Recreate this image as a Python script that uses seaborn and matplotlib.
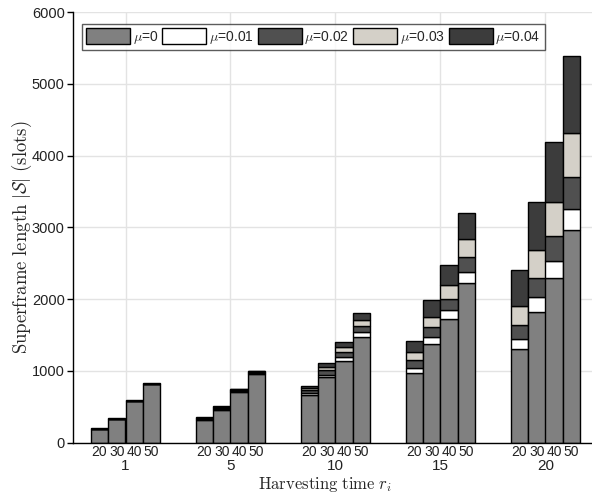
import numpy as np
import seaborn as sns
import matplotlib.pyplot as plt

# harvesting time groups and number of nodes per bar
harvest_times = ["1", "5", "10", "15", "20"]
node_counts = ["20", "30", "40", "50"]
mu_labels = ["$\\mu$=0", "$\\mu$=0.01", "$\\mu$=0.02", "$\\mu$=0.03", "$\\mu$=0.04"]
mu_colors = ["#808080", "#ffffff", "#505050", "#d4d0c8", "#3c3c3c"]

# superframe length |S| for each mu (cumulative), rows = node counts 20..50
len_r1 = [[185, 189, 193, 197, 200],
          [325, 329, 333, 337, 340],
          [575, 579, 583, 587, 590],
          [812, 816, 820, 824, 827]]
len_r5 = [[316, 326, 337, 347, 358],
          [451, 465, 479, 493, 507],
          [711, 721, 731, 742, 752],
          [961, 972, 982, 993, 1003]]
len_r10 = [[670, 695, 730, 760, 794],
           [911, 943, 1013, 1059, 1115],
           [1142, 1190, 1259, 1329, 1403],
           [1477, 1538, 1630, 1709, 1805]]
len_r15 = [[975, 1045, 1152, 1259, 1417],
           [1371, 1477, 1608, 1747, 1984],
           [1719, 1849, 2002, 2197, 2476],
           [2229, 2374, 2591, 2834, 3196]]
len_r20 = [[1305, 1440, 1640, 1909, 2406],
           [1825, 2026, 2299, 2685, 3349],
           [2290, 2531, 2880, 3357, 4185],
           [2959, 3258, 3706, 4310, 5387]]

lengths = np.array([len_r1, len_r5, len_r10, len_r15, len_r20], dtype=float)

sns.set_theme(style="whitegrid")
plt.rcParams['font.family'] = ['Liberation Sans', 'DejaVu Sans']
plt.rcParams['mathtext.fontset'] = 'cm'

fig = plt.figure(figsize=(5.92, 4.98), dpi=100)
ax = fig.add_axes([73 / 592, 1 - 442.7 / 498, 1 - 73 / 592, 430.7 / 498])

bar_w = 0.165
group_x = np.arange(1, len(harvest_times) + 1)
offsets = (np.arange(len(node_counts)) - 1.5) * bar_w

tick_pos = []
for g, gx in enumerate(group_x):
    for n, off in enumerate(offsets):
        x = gx + off
        tick_pos.append(x)
        cum = lengths[g, n]
        seg = np.diff(np.concatenate([[0], cum]))
        bottom = 0
        for m in range(len(mu_labels)):
            ax.bar(x, seg[m], bottom=bottom, width=bar_w, color=mu_colors[m],
                   edgecolor="black", linewidth=1.0,
                   label=mu_labels[m] if (g == 0 and n == 0) else None)
            bottom += seg[m]

ax.set_xlim(0.5, 0.5 + (592 - 73) / 105)
ax.set_ylim(0, 6000)
ax.set_yticks(np.arange(0, 6001, 1000))
ax.set_xticks(tick_pos)
ax.set_xticklabels(node_counts * len(harvest_times))
ax.set_xticks(group_x, minor=True)
ax.set_xticklabels(harvest_times, minor=True)

ax.set_axisbelow(True)
ax.grid(False)
ax.yaxis.grid(True, color="#e3e3e3", linewidth=1)
ax.xaxis.grid(True, which="minor", color="#e3e3e3", linewidth=1)

ax.set_facecolor("white")
for s in ["top", "right"]:
    ax.spines[s].set_visible(False)
for s in ["left", "bottom"]:
    ax.spines[s].set_color("black")
    ax.spines[s].set_linewidth(1.0)

ax.tick_params(axis="y", which="major", direction="out", length=4, width=1,
               color="black", labelsize=10.5, pad=2, left=True, labelcolor="#222222")
ax.tick_params(axis="x", which="major", length=0, labelsize=10, pad=2, labelcolor="#222222")
ax.tick_params(axis="x", which="minor", length=0, labelsize=11, pad=12, labelcolor="#222222")

ax.set_ylabel("$\\mathrm{Superframe\\ length}\\ |\\mathcal{S}|\\ \\mathrm{(slots)}$",
              fontsize=13.5)
ax.yaxis.set_label_coords(-0.076, 0.478)
ax.set_xlabel("$\\mathrm{Harvesting\\ time}\\ r_i$", fontsize=12)
ax.xaxis.set_label_coords(0.486, -0.074)

leg = ax.legend(loc="upper left", bbox_to_anchor=(0.017, 0.972), borderaxespad=0,
                ncol=5, frameon=True, fancybox=False, fontsize=10,
                handlelength=3.15, handleheight=1.4, handletextpad=0.2,
                columnspacing=0.3, borderpad=0.3)
leg.get_frame().set_edgecolor("#333333")
leg.get_frame().set_linewidth(1.0)

fig.savefig("out.png", dpi=100)
